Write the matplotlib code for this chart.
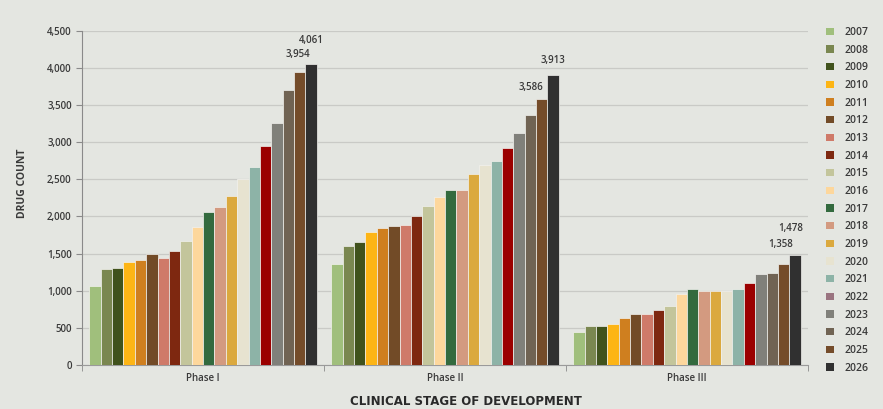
import numpy as np
import matplotlib.pyplot as plt
from matplotlib.patches import Patch

phases = ['Phase I', 'Phase II', 'Phase III']
years = [str(y) for y in range(2007, 2027)]

phase1 = [1060, 1293, 1302, 1392, 1410, 1491, 1446, 1540, 1670, 1854,
          2061, 2124, 2281, 2510, 2672, 2945, 3260, 3700, 3954, 4061]
phase2 = [1360, 1598, 1661, 1796, 1850, 1877, 1886, 2007, 2146, 2258,
          2353, 2357, 2573, 2690, 2743, 2923, 3130, 3372, 3586, 3913]
phase3 = [446, 522, 522, 553, 625, 687, 687, 740, 798, 950,
          1017, 999, 999, 1000, 1026, 1110, 1218, 1235, 1358, 1478]

bar_colors = ['#a0bf7c', '#7a8750', '#40521c', '#fdb515', '#cf7f1f',
              '#724b27', '#cf7a69', '#7e2810', '#c3c59b', '#fdd79c',
              '#336a3e', '#d39a80', '#dba93e', '#e7e3d0', '#8db3a7',
              '#9b0000', '#80807a', '#706353', '#744c2a', '#303030']
legend_colors = list(bar_colors)
legend_colors[15] = '#9a7480'

bg = '#e4e6e1'
text_col = '#3a3a3a'
font = 'Open Sans'

fig = plt.figure(figsize=(8.83, 4.09), dpi=100, facecolor=bg)
ax = fig.add_axes([0.093, 0.108, 0.822, 0.816], facecolor=bg)

data = np.array([phase1, phase2, phase3])
n = len(years)
width = 0.94 / n
x = np.arange(len(phases))
for i in range(n):
    ax.bar(x - 0.47 + width * (i + 0.5), data[:, i], width=width,
           color=bar_colors[i], edgecolor='#f2f2ee', linewidth=0.5, zorder=3)

# value labels on the last two years of each phase
label_offsets = {
    (0, 18): (-1, 8), (0, 19): (0, 12.5),
    (1, 18): (-8, 4), (1, 19): (0, 6.5),
    (2, 18): (-2, 10.5), (2, 19): (-3, 15.5),
}
for (p, i), off in label_offsets.items():
    xi = x[p] - 0.47 + width * (i + 0.5)
    ax.annotate(f'{data[p, i]:,}', (xi, data[p, i]), xytext=off,
                textcoords='offset points', ha='center', va='bottom',
                fontsize=7, fontweight='semibold', color=text_col, family=font)

ax.set_xlim(-0.5, 2.5)
ax.set_ylim(0, 4500)
ax.set_yticks(np.arange(0, 4501, 500))
ax.set_yticklabels([f'{v:,}' for v in range(0, 4501, 500)])
ax.set_xticks(x)
ax.set_xticklabels(phases)
ax.set_xticks([-0.5, 0.5, 1.5, 2.5], minor=True)
ax.tick_params(axis='x', which='major', length=0, labelsize=7, colors=text_col, pad=6)
ax.tick_params(axis='x', which='minor', length=4, color='#8a8a8a')
ax.tick_params(axis='y', length=4, color='#8a8a8a', labelsize=7, labelcolor=text_col)
for lbl in ax.get_xticklabels() + ax.get_yticklabels():
    lbl.set_family(font)
    lbl.set_fontweight('semibold')

ax.grid(axis='y', color='#c9cac6', linewidth=0.9, zorder=0)
for s in ['top', 'right']:
    ax.spines[s].set_visible(False)
ax.spines['left'].set_color('#8a8a8a')
ax.spines['bottom'].set_color('#9a9a9a')

ax.set_ylabel('DRUG COUNT', fontsize=7.5, fontweight='bold', color=text_col,
              family=font)
ax.yaxis.set_label_coords(-0.074, 0.545)
ax.set_xlabel('CLINICAL STAGE OF DEVELOPMENT', fontsize=8.5, fontweight='bold',
              color='#2a2a2a', family='DejaVu Sans')
ax.xaxis.set_label_coords(0.529, -0.09)

handles = [Patch(facecolor=c, edgecolor='none') for c in legend_colors]
leg = fig.legend(handles, years, loc='upper left', bbox_to_anchor=(0.925, 0.957),
                 frameon=False, fontsize=7.5, handlelength=0.75, handleheight=0.75,
                 handletextpad=1.0, labelspacing=0.64)
for t in leg.get_texts():
    t.set_family(font)
    t.set_fontweight('semibold')
    t.set_color(text_col)

fig.savefig('out.png', dpi=100, facecolor=bg)
